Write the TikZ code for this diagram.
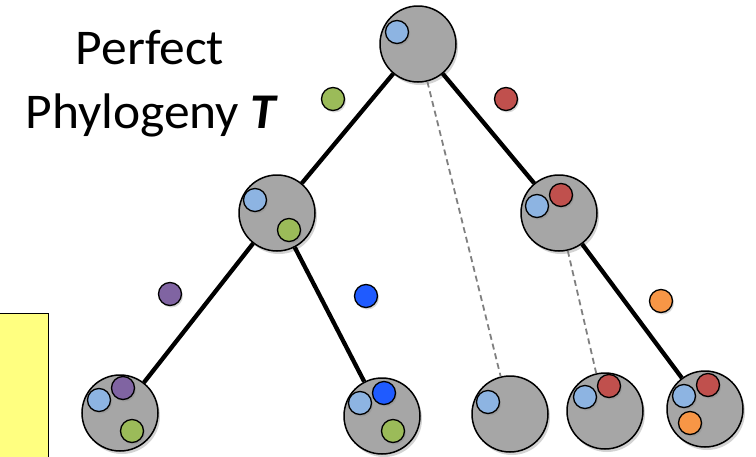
\documentclass[tikz,border=0pt]{standalone}
\usepackage{fontspec}
\setmainfont{Carlito}
\usetikzlibrary{shadows}

\definecolor{cellgray}{HTML}{A6A6A6}
\definecolor{mutblue}{HTML}{8DB4E2}
\definecolor{mutgreen}{HTML}{9BBB59}
\definecolor{mutred}{HTML}{C0504D}
\definecolor{mutpurple}{HTML}{8064A2}
\definecolor{mutdeep}{HTML}{1F5BFF}
\definecolor{mutorange}{HTML}{F79646}
\definecolor{notepad}{HTML}{FFFF80}

\tikzset{
  cell/.style={circle, draw, line width=1.5pt, fill=cellgray, minimum size=76pt, inner sep=0pt,
    drop shadow={opacity=0.35, shadow xshift=2pt, shadow yshift=-3pt}},
  mut/.style={circle, draw, line width=1.3pt, fill=#1, minimum size=23pt, inner sep=0pt,
    drop shadow={opacity=0.3, shadow xshift=1.5pt, shadow yshift=-2pt}},
  branch/.style={line width=4.3pt},
  lost/.style={line width=1.8pt, draw=gray, dashed, dash pattern=on 6pt off 4pt},
  titletext/.style={anchor=base, xscale=1.03, font=\fontsize{50}{60}\selectfont}
}

\begin{document}
\begin{tikzpicture}[x=1pt, y=-1pt]
\useasboundingbox (0,0) rectangle (756,456);

%title and note
\node[titletext] (title1) at (150,64) {Perfect};
\node[titletext] (title2) at (152,128) {Phylogeny \textbf{\textit{T}}};
\draw[fill=notepad, line width=1pt] (-2,313) rectangle (48,460);

%cells of the tree
\node[cell] (root) at (418,44) {};
\node[cell] (left) at (277,213) {};
\node[cell] (right) at (559,213) {};
\node[cell] (leafA) at (120,413) {};
\node[cell] (leafB) at (382,416) {};
\node[cell] (leafC) at (510,414) {};
\node[cell] (leafD) at (605,411) {};
\node[cell] (leafE) at (705,409) {};

%branches
\draw[branch] (root) -- (left);
\draw[branch] (root) -- (right);
\draw[branch] (left) -- (leafA);
\draw[branch] (left) -- (leafB);
\draw[branch] (right) -- (leafE);
\draw[lost] (root) -- (leafC);
\draw[lost] (right) -- (leafD);

%mutations inside the cells
\node[mut=mutblue] (rootB) at (397,32) {};
\node[mut=mutblue] (leftB) at (255,200) {};
\node[mut=mutgreen] (leftG) at (289,230) {};
\node[mut=mutblue] (rightB) at (537,206) {};
\node[mut=mutred] (rightR) at (561,195) {};
\node[mut=mutblue] (leafAB) at (99,400) {};
\node[mut=mutpurple] (leafAP) at (123,388) {};
\node[mut=mutgreen] (leafAG) at (132,431) {};
\node[mut=mutblue] (leafBB) at (360,403) {};
\node[mut=mutdeep] (leafBD) at (384,393) {};
\node[mut=mutgreen] (leafBG) at (393,431) {};
\node[mut=mutblue] (leafCB) at (488,402) {};
\node[mut=mutblue] (leafDB) at (585,397) {};
\node[mut=mutred] (leafDR) at (609,386) {};
\node[mut=mutblue] (leafEB) at (684,396) {};
\node[mut=mutred] (leafER) at (708,385) {};
\node[mut=mutorange] (leafEO) at (690,423) {};

%mutations on the branches
\node[mut=mutgreen] (gainG) at (333,99) {};
\node[mut=mutred] (gainR) at (506,99) {};
\node[mut=mutpurple] (gainP) at (170,294) {};
\node[mut=mutdeep] (gainD) at (366,296) {};
\node[mut=mutorange] (gainO) at (661,301) {};
\end{tikzpicture}
\end{document}
